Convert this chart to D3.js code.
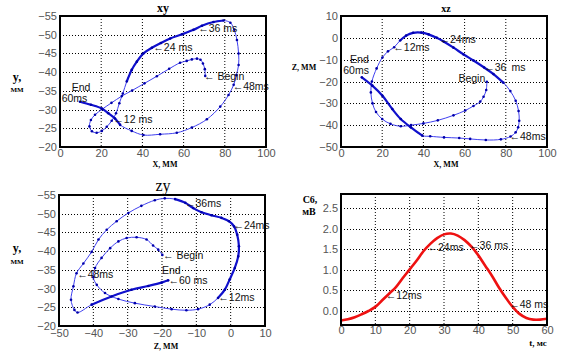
<!DOCTYPE html>
<html>
<head>
<meta charset="utf-8">
<script src="https://d3js.org/d3.v7.min.js"></script>
<style>
  body { margin: 0; background: #fff; }
  svg { display: block; }
</style>
</head>
<body>
<svg></svg>
<script>
// --- loop xy (x, y in mm)
var xyPts = [
  [70.5,-39.0],[70.3,-40.8],[69.4,-42.3],[68.2,-43.3],[66.5,-43.6],[64.0,-43.4],[61.5,-43.0],
  [58.3,-42.5],[53,-40.9],[47,-38.9],[41,-37],[35,-35.1],[30,-33.6],[25,-31.8],[20.5,-30.1],
  [17,-28.6],[15,-27.2],[14.3,-25.5],[15.5,-24.2],[17.8,-23.8],[20.3,-24.3],[22.7,-25.4],
  [25.1,-27.0],[27.2,-29.0],[28.8,-31.7],[30.5,-34.3],[32.4,-37.5],[34.8,-40.6],[37.3,-42.8],
  [40.5,-45.0],[44.6,-46.5],[49,-47.8],[53.5,-49.0],[59.2,-50.1],[64.8,-51.3],[68.9,-52.4],
  [74.5,-53.4],[79.4,-53.8],[82.7,-53.2],[84.6,-51.3],[85.9,-48.6],[86.7,-45.0],[86.7,-41.9],
  [85.6,-39.2],[84.3,-36.6],[81.8,-33.9],[77.8,-30.8],[71.3,-27.4],[64.0,-25.2],[56.7,-23.8],
  [48.6,-23.4],[40.5,-23.2],[34.8,-24.3],[29.2,-25.9],[26.7,-27.6],[23.5,-29.0],[20.3,-30.3],
  [15,-31.3],[9.7,-32.1]
];
var xyThick = [[26,37],[53,58]];
var xyNotes = [
  [67.1,-51.7,'\u219036 ms'],[45.3,-46.5,'\u219024 ms'],[69.9,-38.8,'\u2190 Begin'],
  [83.8,-36.3,'\u219048ms'],[25.9,-27.5,'\u219012 ms']
];
var xyText = [[5.7,-35.0,'End'],[0.8,-31.9,'60ms']];

// --- loop xz
var xzPts = [
  [70.8,-20.1],[70.5,-23.9],[69.2,-27.0],[67.6,-29.2],[64.3,-31.2],[60.3,-33.3],[54.6,-35.5],
  [47,-37.8],[40,-39.2],[34,-40.0],[29,-40.5],[24,-39.4],[20,-37.2],[17,-34.0],[15.3,-30.0],
  [14.5,-25.0],[15.0,-20.0],[17.3,-14.0],[20.1,-9.0],[22.8,-6.2],[25.8,-4.3],[28.7,-1.2],
  [31.6,1.0],[35,2.3],[39,2.4],[42.5,1.6],[46.5,0.0],[50,-1.8],[54.6,-4.5],[59.5,-7.6],
  [64.3,-10.4],[69.5,-13.6],[74,-16.6],[78.9,-20.6],[82.2,-24.4],[84.8,-28.8],[86.2,-33.5],
  [86.5,-38.0],[86.0,-41.0],[84.8,-43.3],[82.3,-45.2],[77.6,-46.5],[70.3,-46.8],[62.7,-46.3],
  [57.4,-45.9],[50,-45.6],[43.3,-45.1],[39.5,-44.8],[33.9,-41.0],[29,-37.2],[24.9,-32.6],
  [20.1,-26.5],[15.2,-21.9],[10.1,-18.1]
];
var xzThick = [[21,33],[47,53]];
var xzNotes = [
  [47.8,-0.7,'\u219024ms'],[25.4,-4.3,'\u219012ms'],[69.5,-13.7,'\u219036\u2002ms'],
  [81.8,-45.3,'\u219048ms']
];
var xzText = [[4.4,-11.7,'End'],[1.1,-16.6,'60ms'],[57,-20.1,'Begin']];

// --- loop zy (z, y)
var zyPts = [
  [-19.9,-39.0],[-21.1,-40.4],[-22.6,-41.5],[-24.5,-43.1],[-27.4,-43.7],[-30.3,-43.5],
  [-32.7,-42.6],[-35.1,-40.8],[-37.6,-38.2],[-39.5,-35.5],[-40.0,-33.0],[-39.0,-31.0],
  [-36.6,-28.8],[-32.7,-27.2],[-27.9,-26.1],[-22.1,-25.2],[-17.2,-24.5],[-12.9,-24.2],
  [-9.5,-24.5],[-6.1,-25.7],[-3.7,-27.5],[-1.7,-29.7],[-0.3,-32.4],[1.2,-35.5],[2.2,-38.6],
  [2.4,-41.3],[1.9,-44.4],[1.0,-46.6],[-0.5,-48.0],[-2.7,-48.9],[-5.6,-49.6],[-8.5,-50.4],
  [-10.9,-51.5],[-13.2,-52.9],[-16.2,-53.9],[-19.2,-54.1],[-22.1,-53.6],[-26.0,-52.1],
  [-29.8,-50.2],[-33.2,-48.0],[-36.1,-45.7],[-38.5,-43.1],[-40.5,-39.8],[-42.9,-36.7],
  [-44.9,-34.1],[-45.8,-30.6],[-46.5,-27.0],[-45.5,-24.3],[-44.6,-23.6],[-40.5,-25.7],
  [-34.7,-27.9],[-28.9,-29.7],[-24.0,-30.7],[-20.1,-31.6],[-18.2,-32.2]
];
var zyThick = [[20,34],[49,54]];
var zyNotes = [
  [-13.3,-52.9,'\u219036ms'],[0.8,-46.8,'\u219024ms'],[-19.7,-39,'\u2190 Begin'],
  [-18.1,-32.1,'\u219060 ms'],[-44.7,-33.7,'\u219048ms'],[-3.6,-27.6,'\u219012ms']
];
var zyText = [[-20,-33.9,'End']];

// --- C6 lead, mV over time, ms
var c6Time = [0,2,4,6,8,10,12,14,16,18,20,22,24,26,28,30,32,34,36,38,40,42,44,46,48,50,52,54,56,58,60];
var c6Vals = [-0.23,-0.2,-0.15,-0.08,0.0,0.1,0.26,0.42,0.58,0.8,1.01,1.22,1.45,1.63,1.77,1.86,1.88,
  1.83,1.72,1.56,1.35,1.1,0.85,0.57,0.32,0.1,-0.07,-0.17,-0.21,-0.21,-0.19];
var c6Notes = [
  [25.2,1.55,'\u219024ms'],[37.3,1.6,'\u219036 ms'],[13,0.39,'\u219012ms'],[49,0.15,'\u219048 ms']
];

var xyXTicks = [0,20,40,60,80,100], xyYTicks = [-55,-50,-45,-40,-35,-30,-25,-20];
var xzXTicks = [0,20,40,60,80,100], xzYTicks = [10,0,-10,-20,-30,-40,-50];
var zyXTicks = [-50,-40,-30,-20,-10,0,10], zyYTicks = [-55,-50,-45,-40,-35,-30,-25,-20];
var c6XTicks = [0,10,20,30,40,50,60], c6YTicks = [0,0.5,1,1.5,2,2.5];

var svg = d3.select('svg').attr('width', 561).attr('height', 358);

var panels = [
  {box:[60,16,206,131], xd:[0,100], yd:[-55,-20], xt:xyXTicks, yt:xyYTicks, xOff:10},
  {box:[341,16,206,131], xd:[0,100], yd:[10,-50], xt:xzXTicks, yt:xzYTicks, xOff:10},
  {box:[59,195,206,131], xd:[-50,10], yd:[-55,-20], xt:zyXTicks, yt:zyYTicks, xOff:11},
  {box:[341,194,206,131], xd:[0,60], yd:[2.84,-0.34], xt:c6XTicks, yt:c6YTicks, xOff:9}
];

panels.forEach(function(p) {
  var b = p.box;
  p.x = d3.scaleLinear().domain(p.xd).range([b[0], b[0] + b[2]]);
  p.y = d3.scaleLinear().domain(p.yd).range([b[1], b[1] + b[3]]);
  var g = svg.append('g');
  p.g = g;
  // grid
  g.selectAll('.gx').data(p.xt.slice(1, -1)).enter().append('line')
    .attr('x1', d => p.x(d)).attr('x2', d => p.x(d))
    .attr('y1', b[1]).attr('y2', b[1] + b[3])
    .attr('stroke', '#000').attr('stroke-width', 1).attr('stroke-dasharray', '1,2');
  g.selectAll('.gy').data(p.yt).enter().append('line')
    .attr('x1', b[0]).attr('x2', b[0] + b[2])
    .attr('y1', d => Math.round(p.y(d)) + 0.5).attr('y2', d => Math.round(p.y(d)) + 0.5)
    .attr('stroke', '#000').attr('stroke-width', 1).attr('stroke-dasharray', '1,2');
  // tick labels
  g.append('g').attr('transform', 'translate(0,' + (b[1] + b[3]) + ')')
    .call(d3.axisBottom(p.x).tickValues(p.xt).tickSize(0).tickPadding(p.xOff - 8))
    .call(a => a.select('.domain').remove())
    .selectAll('text').attr('fill', '#555').style('font', '11px "Liberation Sans", Arial');
  g.append('g').attr('transform', 'translate(' + b[0] + ',0)')
    .call(d3.axisLeft(p.y).tickValues(p.yt).tickSize(0).tickPadding(3))
    .call(a => a.select('.domain').remove())
    .selectAll('text').attr('fill', '#555').style('font', '11px "Liberation Sans", Arial');
});

function drawLoop(p, pts, thick) {
  var line = d3.line().x(d => p.x(d[0])).y(d => p.y(d[1])).curve(d3.curveCatmullRom);
  p.g.append('path').datum(pts).attr('d', line)
    .attr('fill', 'none').attr('stroke', '#4040f0').attr('stroke-width', 1);
  thick.forEach(function(r) {
    p.g.append('path').datum(pts.slice(r[0], r[1] + 1)).attr('d', line)
      .attr('fill', 'none').attr('stroke', '#1111cc').attr('stroke-width', 2.2);
  });
  p.g.selectAll('.dot').data(pts).enter().append('circle')
    .attr('cx', d => p.x(d[0])).attr('cy', d => p.y(d[1])).attr('r', 1.3)
    .attr('fill', '#0000aa');
}

function drawNotes(p, notes, plain) {
  p.g.selectAll('.note').data(notes).enter().append('text')
    .attr('x', d => p.x(d[0])).attr('y', d => p.y(d[1])).attr('dy', '0.35em')
    .attr('fill', '#111').style('font', '10.5px "Liberation Sans", Arial')
    .text(d => d[2]);
  p.g.selectAll('.plain').data(plain).enter().append('text')
    .attr('x', d => p.x(d[0])).attr('y', d => p.y(d[1]))
    .attr('fill', '#111').style('font', '10.5px "Liberation Sans", Arial')
    .text(d => d[2]);
}

drawLoop(panels[0], xyPts, xyThick);
drawLoop(panels[1], xzPts, xzThick);
drawLoop(panels[2], zyPts, zyThick);

var c6 = panels[3];
c6.g.append('path').datum(c6Time)
  .attr('d', d3.line().x(t => c6.x(t)).y((t, i) => c6.y(c6Vals[i])).curve(d3.curveCatmullRom))
  .attr('fill', 'none').attr('stroke', '#ee1111').attr('stroke-width', 2.6);

drawNotes(panels[0], xyNotes, xyText);
drawNotes(panels[1], xzNotes, xzText);
drawNotes(panels[2], zyNotes, zyText);
drawNotes(c6, c6Notes, []);

// frames
panels.forEach(function(p) {
  var b = p.box;
  p.g.append('rect').attr('x', b[0]).attr('y', b[1]).attr('width', b[2]).attr('height', b[3])
    .attr('fill', 'none').attr('stroke', '#000').attr('stroke-width', 2);
});

// titles and axis names
var serif = '"Liberation Serif", "Times New Roman", serif';
function label(x, y, txt, size, weight, anchor) {
  svg.append('text').attr('x', x).attr('y', y).attr('text-anchor', anchor || 'middle')
    .style('font-family', serif).style('font-size', size + 'px').style('font-weight', weight)
    .attr('fill', '#000').text(txt);
}
label(163, 12, 'xy', 12, 'bold');
label(446, 12, 'xz', 10, 'bold');
label(163, 191, 'zy', 16, 'normal');

label(165, 167, 'X, MM', 8, 'bold');
label(446, 167, 'X, MM', 8, 'bold');
label(166, 349, 'Z, MM', 8, 'bold');
label(538, 346, 't, мс', 9, 'bold');

label(17, 81, 'y,', 12, 'bold');
label(17, 92, 'MM', 7, 'bold');
label(304, 70, 'Z, MM', 8, 'bold');
label(17, 252, 'y,', 12, 'bold');
label(17, 264, 'MM', 7, 'bold');
label(310, 203, 'С6,', 10, 'bold');
label(309, 215, 'мВ', 10, 'bold');
</script>
</body>
</html>
